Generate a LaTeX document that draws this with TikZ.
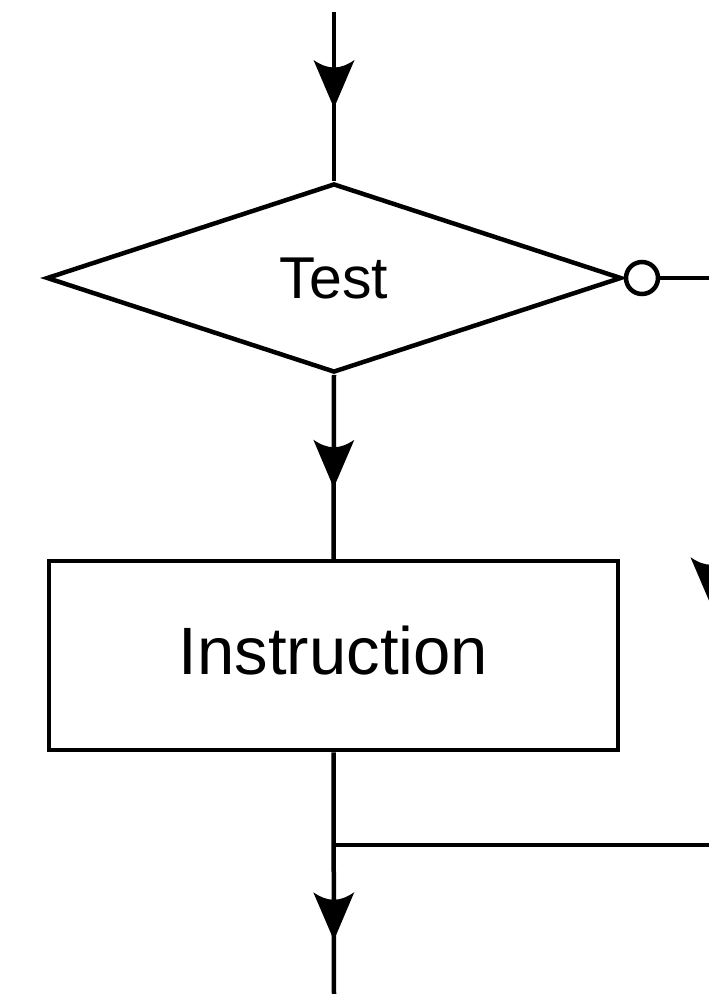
\documentclass[tikz,border=0pt]{standalone}
\usepackage{fontspec}
\setmainfont{Liberation Sans}
\usetikzlibrary{shapes.geometric,decorations.markings}
\tikzset{
  flow/.style={line width=4.5pt},
  % arrowhead with a concave back, placed part-way along a connector
  midarrow/.style={postaction={decorate},
    decoration={markings,
      mark=at position #1 with {\fill (0pt,0pt) -- (-48pt,20.5pt)
        .. controls (-38pt,6pt) and (-38pt,-6pt) .. (-48pt,-20.5pt) -- cycle;}}},
  testbox/.style={draw, shape=diamond, minimum width=575pt, minimum height=189pt,
    inner sep=0pt, aspect=3, font=\fontsize{59}{60}\selectfont},
  instrbox/.style={draw, shape=rectangle, minimum width=569pt, minimum height=189pt,
    inner sep=0pt, text height=48pt, text depth=10pt, font=\fontsize{67}{70}\selectfont},
  negcircle/.style={draw, shape=circle, minimum size=32pt, inner sep=0pt},
}
\begin{document}
\begin{tikzpicture}[x=1pt,y=-1pt,flow]
\useasboundingbox (0,0) rectangle (709,994);
\clip (0,0) rectangle (709,994);

% decision and instruction
\node[testbox] (test) at (334,278) {Test};
\node[negcircle, anchor=west] (neg) at (test.east) {};
\node[instrbox] (instr) at (333.5,655.5) {Instruction};

% free ends and bends
\coordinate (entry) at (334,12);
\coordinate (exit) at (334,994);
\coordinate (rtop) at (711,278);
\coordinate (rbot) at (711,845);
\coordinate (join) at (334,845);

% connectors
\draw[midarrow=96pt] (entry) -- (test.north);
\draw[midarrow=113pt] (test.south) -- (instr.north);
\draw[midarrow=188pt] (instr.south) -- (exit);
\draw[midarrow=378pt] (neg.east) -- (rtop) -- (rbot) -- (join);
\end{tikzpicture}
\end{document}
